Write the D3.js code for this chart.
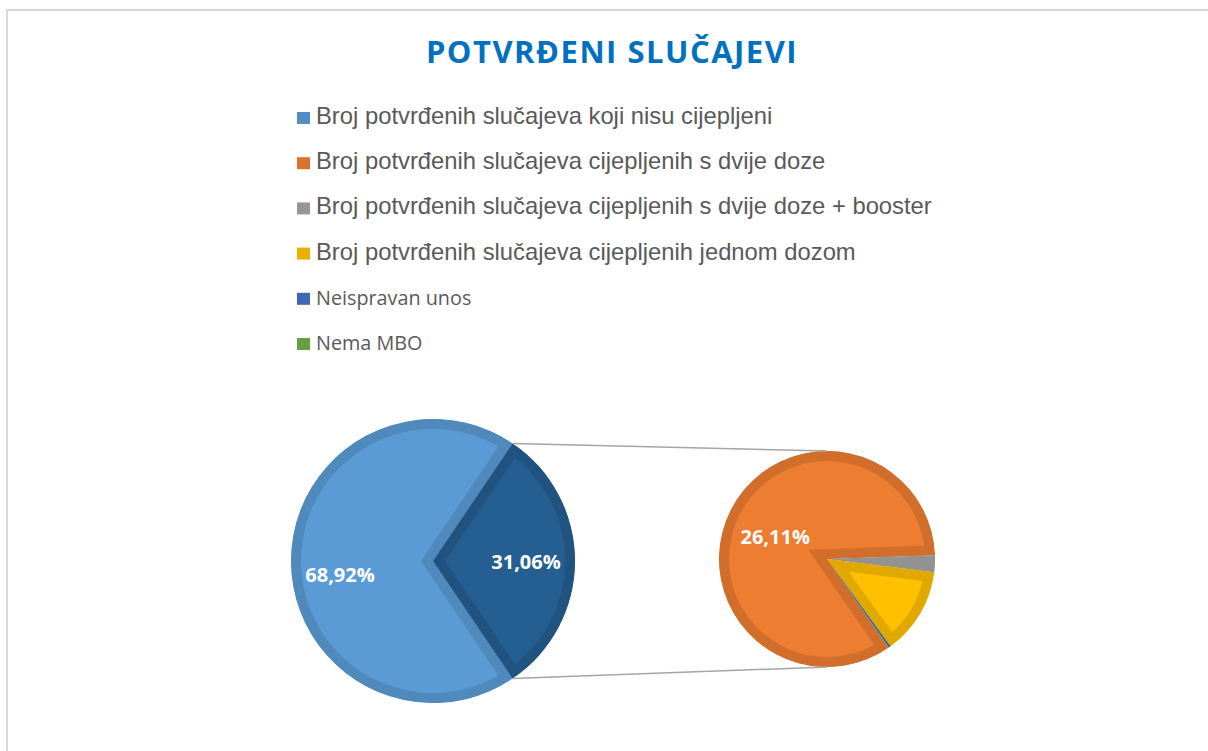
<!DOCTYPE html>
<html lang="hr">
<head>
  <meta charset="UTF-8">
  <title>Potvrđeni slučajevi</title>
  <style>
    body {
      margin: 0;
      padding: 0;
      background: #fff;
    }
    svg text {
      font-family: "Open Sans", sans-serif;
    }
  </style>
</head>
<body>
  <svg id="chart" width="1208" height="751"></svg>
  <script src="https://d3js.org/d3.v7.min.js"></script>
  <script>
    const title = 'POTVRĐENI SLUČAJEVI';

    const categories = [
      'Broj potvrđenih slučajeva koji nisu cijepljeni',
      'Broj potvrđenih slučajeva cijepljenih s dvije doze',
      'Broj potvrđenih slučajeva cijepljenih s dvije doze + booster',
      'Broj potvrđenih slučajeva cijepljenih jednom dozom',
      'Neispravan unos',
      'Nema MBO'
    ];
    const colors = ['#5B9BD5', '#ED7D31', '#A5A5A5', '#FFC000', '#4472C4', '#70AD47'];

    // main pie: first category + "other" (sum of the rest)
    const mainValues = [68.92, 31.06];
    const mainLabels = ['68,92%', '31,06%'];
    const mainColors = ['#5B9BD5', '#255E91'];

    // secondary pie: categories 2..6
    const secondValues = [26.11, 0.78, 4.05, 0.10, 0.02];
    const secondLabels = ['26,11%', '', '', '', ''];
    const secondColors = colors.slice(1);

    const svg = d3.select('#chart');
    const defs = svg.append('defs');

    // outer frame
    svg.append('rect')
      .attr('x', 7)
      .attr('y', 10)
      .attr('width', 1220)
      .attr('height', 760)
      .attr('fill', '#fff')
      .attr('stroke', '#D9D9D9')
      .attr('stroke-width', 2);

    // Title
    svg.append('text')
      .attr('x', 612)
      .attr('y', 63)
      .attr('text-anchor', 'middle')
      .style('font-size', '31px')
      .style('letter-spacing', '1.5px')
      .style('font-weight', 'bold')
      .attr('fill', '#0070C0')
      .text(title);

    // Legend
    const legend = svg.append('g').attr('transform', 'translate(297, 124)');
    const rows = legend.selectAll('g')
      .data(categories)
      .enter()
      .append('g')
      .attr('transform', (d, i) => `translate(0, ${i * 45.2})`);

    rows.append('rect')
      .attr('x', 0)
      .attr('y', -12)
      .attr('width', 13)
      .attr('height', 12)
      .attr('fill', (d, i) => d3.color(colors[i]).darker(0.25));

    rows.append('text')
      .attr('x', 19)
      .attr('y', 0)
      .attr('fill', '#595959')
      .style('font-family', (d, i) => i < 4 ? '"Liberation Sans", Arial, sans-serif' : '"Open Sans", sans-serif')
      .style('font-size', (d, i) => i < 4 ? '23.8px' : '19.8px')
      .text(d => d);

    // pies
    const R1 = 142, c1 = [433, 561];
    const R2 = 108, c2 = [827, 559];
    const border = 10;

    const total1 = d3.sum(mainValues);
    const lightSpan = 2 * Math.PI * mainValues[0] / total1;
    const darkSpan = 2 * Math.PI * mainValues[1] / total1;
    const start1 = 2.5 * Math.PI - lightSpan - darkSpan / 2;

    const total2 = d3.sum(secondValues);
    const firstSpan2 = 2 * Math.PI * secondValues[0] / total2;
    const firstEnd2 = (88 / 180) * Math.PI + 2 * Math.PI;
    const start2 = firstEnd2 - firstSpan2;

    function drawPie(name, values, fills, labels, center, radius, start, labelR, labelDy) {
      const pie = d3.pie().sort(null).startAngle(start).endAngle(start + 2 * Math.PI);
      const arc = d3.arc().innerRadius(0).outerRadius(radius);
      const labelArc = d3.arc().innerRadius(labelR).outerRadius(labelR);
      const arcs = pie(values);
      const g = svg.append('g').attr('transform', `translate(${center[0]}, ${center[1]})`);

      const clips = defs.selectAll(null)
        .data(arcs)
        .enter()
        .append('clipPath')
        .attr('id', (d, i) => `${name}-clip-${i}`);
      clips.append('path').attr('d', arc);

      g.selectAll('path.slice')
        .data(arcs)
        .enter()
        .append('path')
        .attr('class', 'slice')
        .attr('d', arc)
        .attr('clip-path', (d, i) => `url(#${name}-clip-${i})`)
        .attr('fill', (d, i) => fills[i])
        .attr('stroke', (d, i) => d3.color(fills[i]).darker(0.35))
        .attr('stroke-width', border * 2)
        .attr('stroke-linejoin', 'miter');

      g.selectAll('text.lbl')
        .data(arcs)
        .enter()
        .append('text')
        .attr('class', 'lbl')
        .attr('transform', (d, i) => {
          const c = labelArc.centroid(d);
          return `translate(${c[0]}, ${c[1] + (labelDy[i] || 0)})`;
        })
        .attr('dy', '0.35em')
        .attr('text-anchor', 'middle')
        .attr('fill', '#fff')
        .style('font-size', '20px')
        .style('font-weight', 'bold')
        .text((d, i) => labels[i]);

      return arcs;
    }

    const arcs1 = drawPie('main', mainValues, mainColors, mainLabels, c1, R1, start1, 93, [14, 1]);
    drawPie('second', secondValues, secondColors, secondLabels, c2, R2, start2, 58, [4]);

    // connector lines from the "other" slice to the secondary pie
    const dark = arcs1[1];
    const p1 = d3.pointRadial(dark.startAngle, R1);
    const p2 = d3.pointRadial(dark.endAngle, R1);
    const q1 = d3.pointRadial(0, R2);
    const q2 = d3.pointRadial(Math.PI, R2);
    svg.append('g')
      .selectAll('line')
      .data([[p1, q1], [p2, q2]])
      .enter()
      .append('line')
      .attr('x1', d => c1[0] + d[0][0])
      .attr('y1', d => c1[1] + d[0][1])
      .attr('x2', d => c2[0] + d[1][0])
      .attr('y2', d => c2[1] + d[1][1])
      .attr('stroke', '#A5A5A5')
      .attr('stroke-width', 1.5);
  </script>
</body>
</html>
